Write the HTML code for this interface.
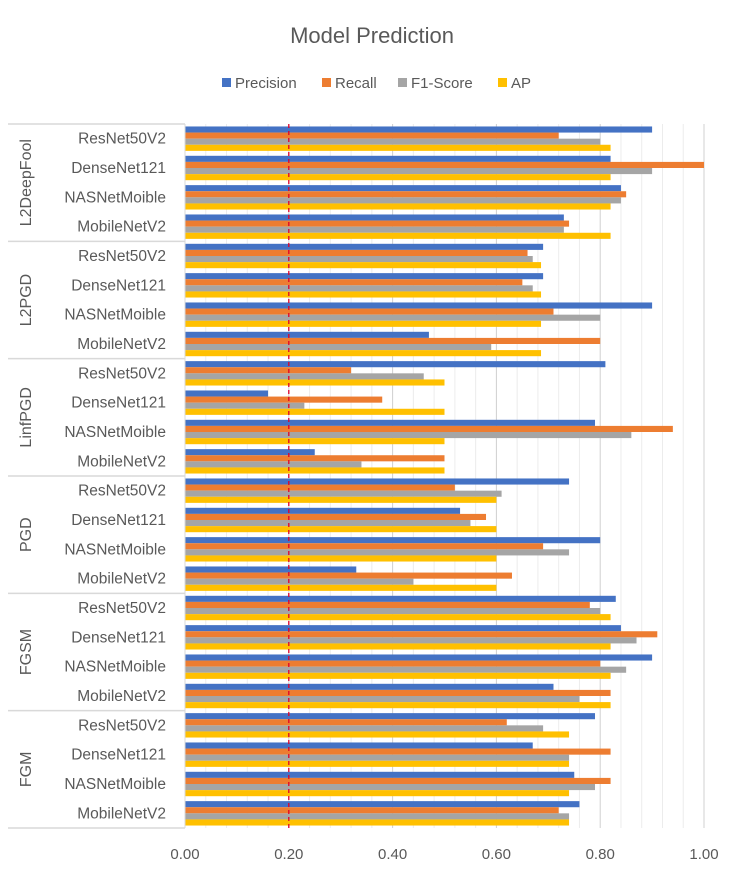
<!DOCTYPE html>
<html><head><meta charset="utf-8"><style>
body{margin:0;background:#fff;font-family:"Liberation Sans",sans-serif;}
svg text{font-family:"Liberation Sans",sans-serif;fill:#595959;}
</style></head><body>
<svg id="chart" width="744" height="877" viewBox="0 0 744 877" xmlns="http://www.w3.org/2000/svg">
<rect width="744" height="877" fill="#fff"/>
<text x="372" y="43" text-anchor="middle" font-size="22">Model Prediction</text>
<g font-size="15">
<rect x="222" y="78" width="9" height="9" fill="#4472C4"/><text x="235" y="88">Precision</text>
<rect x="322" y="78" width="9" height="9" fill="#ED7D31"/><text x="335" y="88">Recall</text>
<rect x="398" y="78" width="9" height="9" fill="#A5A5A5"/><text x="411" y="88">F1-Score</text>
<rect x="498" y="78" width="9" height="9" fill="#FFC000"/><text x="511" y="88">AP</text>
</g>
<g id="grid"></g><g id="bars"></g><g id="axes"></g>
</svg>
<script>
const groups = ["L2DeepFool","L2PGD","LinfPGD","PGD","FGSM","FGM"];
const models = ["ResNet50V2","DenseNet121","NASNetMoible","MobileNetV2"];
const precision = [0.90,0.82,0.84,0.73, 0.69,0.69,0.90,0.47, 0.81,0.16,0.79,0.25, 0.74,0.53,0.80,0.33, 0.83,0.84,0.90,0.71, 0.79,0.67,0.75,0.76];
const recall    = [0.72,1.00,0.85,0.74, 0.66,0.65,0.71,0.80, 0.32,0.38,0.94,0.50, 0.52,0.58,0.69,0.63, 0.78,0.91,0.80,0.82, 0.62,0.82,0.82,0.72];
const f1score   = [0.80,0.90,0.84,0.73, 0.67,0.67,0.80,0.59, 0.46,0.23,0.86,0.34, 0.61,0.55,0.74,0.44, 0.80,0.87,0.85,0.76, 0.69,0.74,0.79,0.74];
const ap        = [0.82,0.82,0.82,0.82, 0.686,0.686,0.686,0.686, 0.50,0.50,0.50,0.50, 0.60,0.60,0.60,0.60, 0.82,0.82,0.82,0.82, 0.74,0.74,0.74,0.74];
const xTicks = ["0.00","0.20","0.40","0.60","0.80","1.00"];
const threshold = 0.2;

const NS="http://www.w3.org/2000/svg";
const X0=185,X1=704,Y0=124,Y1=828;
const x=v=>X0+(X1-X0)*v;
const rowH=(Y1-Y0)/(groups.length*models.length);
const y=i=>Y0+i*rowH;
function mk(tag,parent,attrs){const e=document.createElementNS(NS,tag);for(const k in attrs)e.setAttribute(k,attrs[k]);parent.appendChild(e);return e;}
const grid=document.getElementById('grid'),bars=document.getElementById('bars'),axes=document.getElementById('axes');
for(let k=1;k<=25;k++){const v=k*0.04;const l=mk('line',grid,{x1:x(v),x2:x(v),y1:Y0,y2:Y1,stroke:(k%5===0)?'#d0d0d0':'#ececec','stroke-width':1});

}
const series=[[precision,'#4472C4','precision'],[recall,'#ED7D31','recall'],[f1score,'#A5A5A5','f1-score'],[ap,'#FFC000','ap']];
const bh=6.1,pad=(rowH-4*bh)/2;
for(let i=0;i<precision.length;i++){
  series.forEach((s,j)=>{
    const r=mk('rect',bars,{x:X0,y:y(i)+pad+j*bh,width:x(s[0][i])-X0,height:bh,fill:s[1]});
    
    
  });
}
const th=mk('line',axes,{x1:x(threshold),x2:x(threshold),y1:Y0,y2:Y1,stroke:'#e0002a','stroke-width':1.3,'stroke-dasharray':'4,3'});


const ax=mk('line',axes,{x1:X0,x2:X0,y1:Y0,y2:Y1,stroke:'#d9d9d9','stroke-width':1});


for(let g=0;g<=groups.length;g++){
  const yy=y(g*models.length);
  const l=mk('line',axes,{x1:8,x2:X0,y1:yy,y2:yy,stroke:'#d9d9d9','stroke-width':1.5});
  
  
}
groups.forEach((g,gi)=>{
  const cy=y(gi*4+2);
  const t=mk('text',axes,{x:0,y:0,'font-size':16,'text-anchor':'middle',transform:`translate(31,${cy}) rotate(-90)`});
  t.textContent=g;
  
  
  models.forEach((m,mi)=>{
    const tt=mk('text',axes,{x:166,y:y(gi*4+mi)+rowH/2+5,'font-size':15.5,'text-anchor':'end'});
    tt.textContent=m;
    
    
  });
});
xTicks.forEach(tk=>{
  const t=mk('text',axes,{x:x(parseFloat(tk)),y:859,'font-size':15,'text-anchor':'middle'});
  t.textContent=tk;
  
  
});
</script>
</body></html>
